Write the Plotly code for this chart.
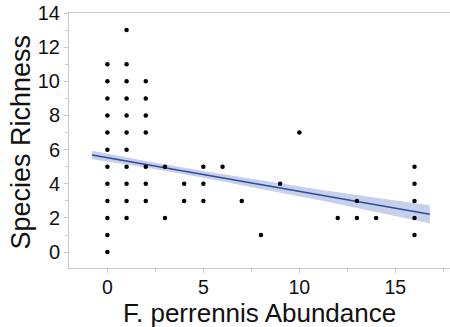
import plotly.graph_objects as go

# Scatter data
abundance = [0]*12 + [1]*11 + [2]*7 + [3, 3, 4, 4, 5, 5, 5, 6, 7, 8, 9, 10, 12, 13, 13, 14] + [16]*5
richness = (list(range(0, 12))
            + [2, 3, 4, 5, 6, 7, 8, 9, 10, 11, 13]
            + [3, 4, 5, 7, 8, 9, 10]
            + [5, 2, 4, 3, 5, 4, 3, 5, 3, 1, 4, 7, 2, 3, 2, 2]
            + [1, 2, 3, 4, 5])

# Fitted line and confidence band
fit_x = [-0.8, 2, 5, 8, 11, 14, 16.8]
fit_y = [5.69, 5.14, 4.55, 3.95, 3.36, 2.77, 2.22]
band_lo = [5.44, 4.95, 4.35, 3.70, 3.05, 2.36, 1.69]
band_hi = [5.94, 5.33, 4.75, 4.20, 3.67, 3.18, 2.75]

x_ticks = [0, 5, 10, 15]
y_ticks = [0, 2, 4, 6, 8, 10, 12, 14]
x_title = "F. perrennis Abundance"
y_title = "Species Richness"

FONT = "Liberation Sans, Arial, sans-serif"
AXIS_COLOR = "#c8c8c8"

fig = go.Figure()
fig.add_trace(go.Scatter(x=fit_x + fit_x[::-1], y=band_hi + band_lo[::-1],
                         fill="toself", fillcolor="#c7d0ea", line=dict(width=0),
                         mode="lines", hoverinfo="skip", showlegend=False))
fig.add_trace(go.Scatter(x=fit_x, y=fit_y, mode="lines",
                         line=dict(color="#2e4a9c", width=1.5), showlegend=False))
fig.add_trace(go.Scatter(x=abundance, y=richness, mode="markers",
                         marker=dict(color="black", size=4.5), showlegend=False))

fig.update_layout(
    width=450, height=327,
    margin=dict(l=69, r=0, t=13, b=59, autoexpand=False),
    plot_bgcolor="white", paper_bgcolor="white",
    font=dict(family=FONT, color="#111111"),
    annotations=[
        dict(text=x_title, xref="paper", yref="paper", x=0.5, y=0,
             xanchor="center", yanchor="top", yshift=-29, borderpad=0,
             showarrow=False, font=dict(size=26)),
        dict(text=y_title, xref="paper", yref="paper", x=0, y=0.5,
             xanchor="right", yanchor="middle", xshift=-33, yshift=-2,
             borderpad=0, textangle=-90, showarrow=False, font=dict(size=27)),
    ],
)
fig.update_xaxes(
    range=[-2.0, 17.85], tickvals=x_ticks, ticks="outside", ticklen=4,
    tickcolor=AXIS_COLOR, showline=True, linecolor=AXIS_COLOR, linewidth=1,
    mirror=True, showgrid=False, zeroline=False, automargin=False,
    tickfont=dict(size=19.5), ticklabelstandoff=-2,
    minor=dict(dtick=2.5, tick0=0, ticks="outside", ticklen=3, tickcolor=AXIS_COLOR),
)
fig.update_yaxes(
    range=[-0.93, 14.0], tickvals=y_ticks, ticks="outside", ticklen=4,
    tickcolor=AXIS_COLOR, showline=True, linecolor=AXIS_COLOR, linewidth=1,
    showgrid=False, zeroline=False, automargin=False,
    tickfont=dict(size=20),
    minor=dict(dtick=1, tick0=0, ticks="outside", ticklen=3, tickcolor=AXIS_COLOR),
)

fig.write_html("out.html", config={"displayModeBar": False},
               post_script="document.body.style.margin='0';document.body.style.overflow='hidden';")
